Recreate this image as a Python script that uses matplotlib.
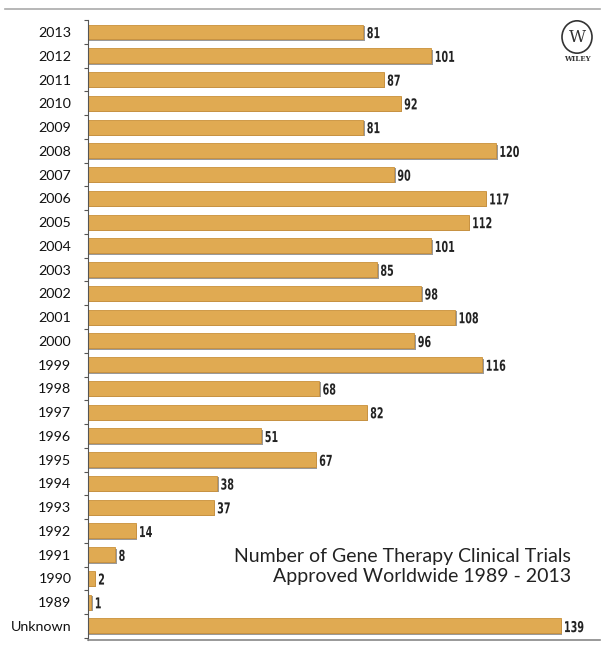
import numpy as np
import matplotlib.pyplot as plt
from matplotlib.lines import Line2D
from matplotlib.patches import Circle, PathPatch
from matplotlib.textpath import TextPath
from matplotlib.font_manager import FontProperties
from matplotlib.transforms import Affine2D, ScaledTranslation

# data (top to bottom)
labels = ['2013', '2012', '2011', '2010', '2009', '2008', '2007', '2006', '2005',
          '2004', '2003', '2002', '2001', '2000', '1999', '1998', '1997', '1996',
          '1995', '1994', '1993', '1992', '1991', '1990', '1989', 'Unknown']
values = [81, 101, 87, 92, 81, 120, 90, 117, 112, 101, 85, 98, 108, 96, 116,
          68, 82, 51, 67, 38, 37, 14, 8, 2, 1, 139]

title = 'Number of Gene Therapy Clinical Trials\nApproved Worldwide 1989 - 2013'

fig = plt.figure(figsize=(6.03, 6.5), dpi=100)
ax = fig.add_axes([88 / 603, 1 - 640 / 650, 512 / 603, 620 / 650])

y = np.arange(len(labels))
h = 0.63

# shadow, then the bar
ax.barh(y + 0.06, np.array(values) + 0.5, height=h, left=0, color='#9a9a9a', zorder=1)
ax.barh(y, values, height=h, color='#e0aa52', edgecolor='#c9903a', linewidth=0.6, zorder=2)

# condensed value labels (squeezed text paths)
fp = FontProperties(family='DejaVu Sans', weight='bold')
size = 10.8
px = fig.dpi / 72
for yi, v in zip(y, values):
    tp = TextPath((0, 0), str(v), size=size, prop=fp)
    tr = (Affine2D().translate(0, -0.36 * size).scale(0.64 * px, px)
          + ScaledTranslation(v + 1.0, yi + 0.03, ax.transData))
    ax.add_artist(PathPatch(tp, transform=tr, color='#222222', lw=0, clip_on=False))

ax.set_xlim(0, 150.6)
ax.set_ylim(25.59, -0.505)
ax.set_yticks(y)
ax.set_yticklabels(labels, fontsize=10.3, family='Lato', color='#111111')
ax.tick_params(axis='y', length=0, pad=12)
ax.set_yticks(np.arange(-0.5, len(labels), 1), minor=True)
ax.tick_params(axis='y', which='minor', length=3, color='#555555', width=0.8)
ax.set_xticks([])

for s in ['top', 'right']:
    ax.spines[s].set_visible(False)
ax.spines['left'].set_color('#555555')
ax.spines['bottom'].set_color('#888888')
ax.spines['bottom'].set_linewidth(1.2)

# top rule
fig.add_artist(Line2D([5 / 603, 600 / 603], [1 - 9 / 650] * 2, color='#aaaaaa', lw=1.2))

ax.text(0.943, 0.119, title, transform=ax.transAxes, ha='right', va='center',
        fontsize=14, family='Lato', color='#222222', linespacing=1.2)

# logo
fig.add_artist(Circle((577 / 603, 1 - 37 / 650), 15 / 603, transform=fig.transFigure,
                      fill=False, ec='#333333', lw=1.2))
fig.text(577 / 603, 1 - 37 / 650, 'W', ha='center', va='center', fontsize=12,
         family='DejaVu Serif', color='#333333')
fig.text(577 / 603, 1 - 59 / 650, 'WILEY', ha='center', va='center', fontsize=5,
         family='DejaVu Serif', weight='bold', color='#333333')

fig.savefig('out.png', dpi=100, facecolor='white')
